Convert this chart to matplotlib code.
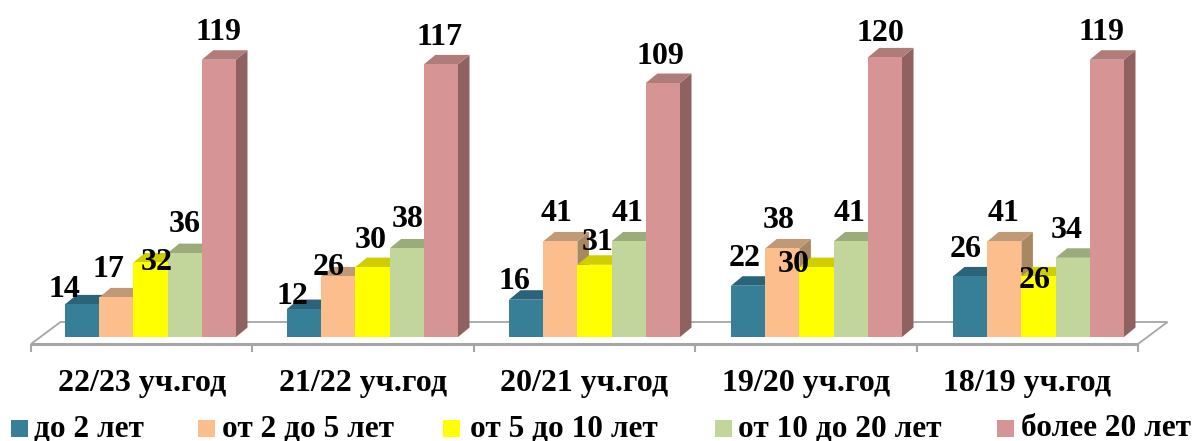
import matplotlib
matplotlib.use("Agg")
import matplotlib.pyplot as plt
from matplotlib.patches import Polygon, Rectangle

categories = ["22/23 уч.год", "21/22 уч.год", "20/21 уч.год", "19/20 уч.год", "18/19 уч.год"]
series_names = ["до 2 лет", "от 2 до 5 лет", "от 5 до 10 лет", "от 10 до 20 лет", "более 20 лет"]
s_0_2 = [14, 12, 16, 22, 26]
s_2_5 = [17, 26, 41, 38, 41]
s_5_10 = [32, 30, 31, 30, 26]
s_10_20 = [36, 38, 41, 41, 34]
s_20 = [119, 117, 109, 120, 119]
series = [s_0_2, s_2_5, s_5_10, s_10_20, s_20]

front = ["#377F97", "#FBBE8C", "#FFFF00", "#C2D69B", "#D79494"]
top = ["#2A6478", "#C09A76", "#CFCF00", "#9CAB7C", "#B07C7A"]
side = ["#245566", "#A98760", "#B5B500", "#8A9A6C", "#8F6160"]

# manual data-label offsets in pixels from the bar-top centre (as placed in the reference)
label_off = [
    [(-18, 17), (-12, 15), (-12, 20), (-3, 29), (-4, 29)],
    [(-8, 30), (-10, 11), (-4, 29.5), (-4, 30), (-1, 29.5)],
    [(6, 2), (-2, 29), (3.5, 24), (-23, 5), (-3.5, -2)],
    [(0, 31), (1, 31), (-1, 29.5), (-1, 29.5), (-6, 29)],
    [(0, 29), (-1, 29), (-2, 29), (-4, 26), (-5, 29)],
]

W, H = 1195, 441
PX_X = 222.0          # pixels per category
PX_Y = 2.33           # pixels per value unit
X0, Y0 = 150.5, 337   # pixel of category 0 centre / of value 0
BW = 34.2 / PX_X
DX, DY = 11.5 / PX_X, 9.5 / PX_Y

fig = plt.figure(figsize=(W / 100, H / 100), dpi=100)
ax = fig.add_axes([0, 0, 1, 1])
ax.set_xlim(-X0 / PX_X, (W - X0) / PX_X)
ax.set_ylim(-(H - Y0) / PX_Y, Y0 / PX_Y)
ax.axis("off")

FONT = "Liberation Serif"
GRAY = "#A6A6A6"

# floor
fy, by = -7 / PX_Y, 15 / PX_Y
STEP = 221.4 / PX_X
x_left = (31 - X0) / PX_X
x_back = 29.5 / PX_X
n = len(categories)
ax.add_patch(Polygon([(x_left, fy), (x_left + x_back, by),
                      (x_left + n * STEP + x_back, by), (x_left + n * STEP, fy)],
                     closed=True, fc="white", ec=GRAY, lw=1.3, zorder=1))
ax.plot([x_left, x_left + n * STEP], [fy, fy], color=GRAY, lw=2.2, zorder=2, solid_capstyle="butt")
for k in range(n + 1):
    xt = x_left + k * STEP
    ax.plot([xt, xt], [fy, fy - 8 / PX_Y], color=GRAY, lw=1.5, zorder=2, solid_capstyle="butt")

# bars
for g in range(n):
    for i, vals in enumerate(series):
        v = vals[g]
        x0 = g + (i - 2.5) * BW
        x1 = x0 + BW
        ax.add_patch(Polygon([(x1, 0), (x1 + DX, DY), (x1 + DX, v + DY), (x1, v)],
                             closed=True, fc=side[i], ec="none", zorder=3))
        ax.add_patch(Polygon([(x0, v), (x0 + DX, v + DY), (x1 + DX, v + DY), (x1, v)],
                             closed=True, fc=top[i], ec="none", zorder=3))
for i, vals in enumerate(series):
    xs = [g + (i - 2) * BW for g in range(n)]
    ax.bar(xs, vals, width=BW, color=front[i], zorder=4, lw=0)
    for g, v in enumerate(vals):
        ax.annotate(str(v), (xs[g], v), xytext=(label_off[i][g][0] * 0.72, (label_off[i][g][1] - 2) * 0.72),
                    textcoords="offset points", ha="center", va="center",
                    fontfamily=FONT, fontweight="bold", fontsize=23, color="black", zorder=6)

# category labels
for g, c in enumerate(categories):
    ax.text(x_left + (g + 0.5) * STEP, -47 / PX_Y, c, ha="center", va="center",
            fontfamily=FONT, fontweight="bold", fontsize=23, color="black", zorder=6)

# legend
sq_x = [11, 198, 443, 715, 997]
txt_x = [34, 222, 470, 738, 1021]
for i, name in enumerate(series_names):
    fig.add_artist(Rectangle((sq_x[i] / W, 1 - 437 / H), 17 / W, 17 / H,
                             transform=fig.transFigure, fc=front[i], ec="none"))
    fig.text(txt_x[i] / W, 1 - 436 / H, name, ha="left", va="baseline",
             fontfamily=FONT, fontweight="bold", fontsize=22.5, color="black")

fig.savefig("out.png", dpi=100)
